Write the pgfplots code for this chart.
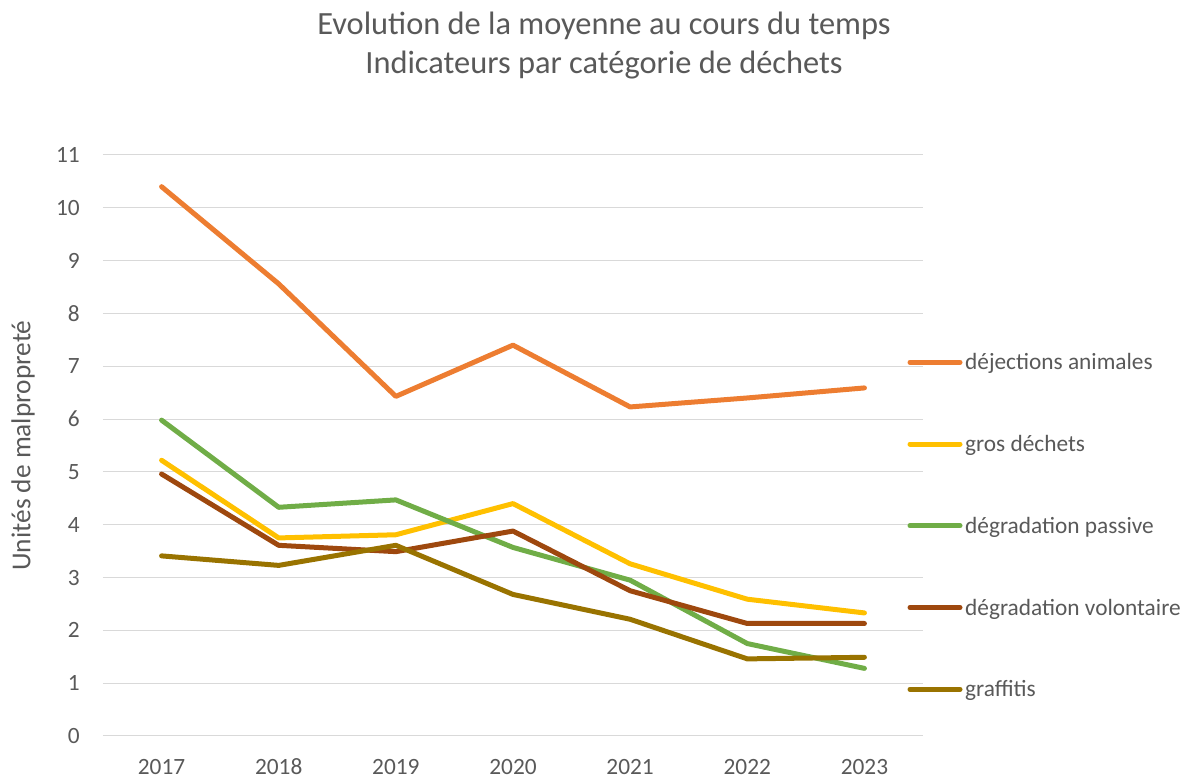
\documentclass[border=0pt]{standalone}
\usepackage{fontspec}
\setmainfont{Carlito}
\usepackage{pgfplots}
\pgfplotsset{compat=1.18}
\definecolor{txt}{HTML}{595959}
\definecolor{grd}{HTML}{D9D9D9}
\definecolor{cA}{HTML}{ED7D31}
\definecolor{cB}{HTML}{FFC000}
\definecolor{cC}{HTML}{70AD47}
\definecolor{cD}{HTML}{9E480E}
\definecolor{cE}{HTML}{997300}
\begin{document}
\begin{tikzpicture}
\useasboundingbox (0,0) rectangle (891.75pt,583.5pt);
\begin{axis}[
  at={(77.25pt,31.5pt)}, anchor=south west,
  scale only axis, width=615pt, height=435.75pt,
  xmin=2016.5, xmax=2023.5, ymin=0, ymax=11,
  xtick={2017,2018,2019,2020,2021,2022,2023},
  xticklabels={2017,2018,2019,2020,2021,2022,2023},
  ytick={0,1,2,3,4,5,6,7,8,9,10,11},
  /pgf/number format/assume math mode=true,
  /pgf/number format/1000 sep={},
  major tick length=0pt,
  axis line style={draw=none},
  ymajorgrids, grid style={grd, line width=0.75pt},
  ticklabel style={font=\fontsize{17.5}{21}\selectfont, text=txt, inner sep=0pt},
  yticklabel style={xshift=-17.25pt},
  xticklabel style={anchor=base, yshift=-28.8pt},
  ylabel={Unités de malpropreté},
  every axis y label/.style={at={(axis description cs:-0.0976,0.5)}, rotate=90, anchor=center, font=\fontsize{20.5}{24}\selectfont, text=txt},
  legend style={at={(0.9811,0.6598)}, anchor=north west, draw=none, fill=none,
    inner sep=0pt, outer sep=0pt, row sep=46.8pt, column sep=2pt,
    font=\fontsize{17.5}{21}\selectfont, text=txt,
    nodes={inner sep=0pt, text height=13pt, text depth=1.5pt}},
  legend cell align=left,
  legend image code/.code={\draw[#1, line cap=round] (0pt,0pt) -- (37.5pt,0pt);},
  every axis plot/.append style={line width=3.75pt, line cap=round, line join=round},
]
\addplot[cA] coordinates {(2017,10.40) (2018,8.56) (2019,6.43) (2020,7.40) (2021,6.23) (2022,6.40) (2023,6.59)};
\addlegendentry{déjections animales}
\addplot[cB] coordinates {(2017,5.22) (2018,3.75) (2019,3.81) (2020,4.40) (2021,3.26) (2022,2.59) (2023,2.33)};
\addlegendentry{gros déchets}
\addplot[cC] coordinates {(2017,5.98) (2018,4.33) (2019,4.47) (2020,3.57) (2021,2.95) (2022,1.75) (2023,1.28)};
\addlegendentry{dégradation passive}
\addplot[cD] coordinates {(2017,4.96) (2018,3.61) (2019,3.49) (2020,3.88) (2021,2.75) (2022,2.13) (2023,2.13)};
\addlegendentry{dégradation volontaire}
\addplot[cE] coordinates {(2017,3.41) (2018,3.23) (2019,3.61) (2020,2.68) (2021,2.21) (2022,1.46) (2023,1.49)};
\addlegendentry{graffitis}
\end{axis}
\node[anchor=base, font=\fontsize{24.3}{29}\selectfont, text=txt, inner sep=0pt] at (453pt,557.25pt) {Evolution de la moyenne au cours du temps};
\node[anchor=base, font=\fontsize{24.3}{29}\selectfont, text=txt, inner sep=0pt] at (453pt,528pt) {Indicateurs par catégorie de déchets};
\end{tikzpicture}
\end{document}
